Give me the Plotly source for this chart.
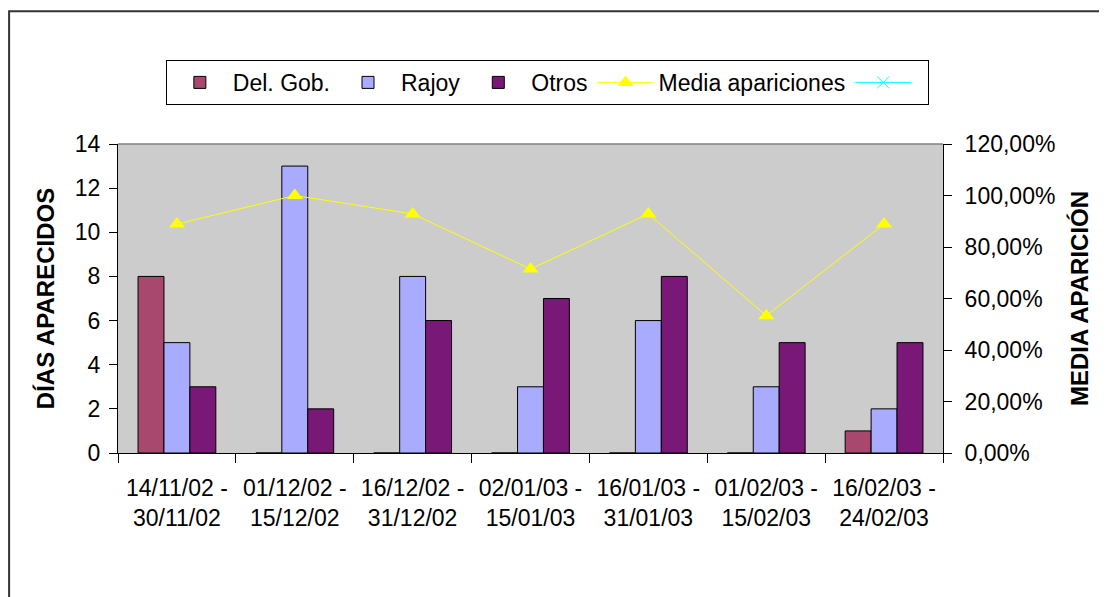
import plotly.graph_objects as go

# datos
periodos = ["14/11/02 -<br>30/11/02", "01/12/02 -<br>15/12/02", "16/12/02 -<br>31/12/02",
            "02/01/03 -<br>15/01/03", "16/01/03 -<br>31/01/03", "01/02/03 -<br>15/02/03",
            "16/02/03 -<br>24/02/03"]
del_gob = [8, 0, 0, 0, 0, 0, 1]
rajoy = [5, 13, 8, 3, 6, 3, 2]
otros = [3, 2, 6, 7, 8, 5, 5]
media_apariciones = [0.8889, 1.0, 0.9286, 0.7143, 0.9286, 0.5333, 0.8889]
serie_vacia = [None] * 7

FONT = "Arial, Liberation Sans, sans-serif"
bar_line = dict(color="#000000", width=1)

fig = go.Figure()
fig.add_trace(go.Bar(x=periodos, y=del_gob, name="Del. Gob.",
                     marker=dict(color="#A8486F", line=bar_line)))
fig.add_trace(go.Bar(x=periodos, y=rajoy, name="Rajoy",
                     marker=dict(color="#A9ABFE", line=bar_line)))
fig.add_trace(go.Bar(x=periodos, y=otros, name="Otros",
                     marker=dict(color="#7A1877", line=bar_line)))
fig.add_trace(go.Scatter(x=periodos, y=media_apariciones, name="Media apariciones",
                         yaxis="y2", mode="lines+markers",
                         line=dict(color="#FFFF00", width=1),
                         marker=dict(symbol="triangle-up", size=14, color="#FFFF00")))
fig.add_trace(go.Scatter(x=periodos, y=serie_vacia, name=" ", yaxis="y2",
                         mode="lines+markers",
                         line=dict(color="#00FFFF", width=1),
                         marker=dict(symbol="x-thin", size=12,
                                     line=dict(color="#00FFFF", width=1))))

# la página añade 8 px de margen: la figura se reduce para que el área de trazado
# quede en 118..943 x 144..453
fig.update_layout(
    width=1099, height=589,
    margin=dict(l=110, r=164, t=136, b=144),
    paper_bgcolor="white",
    plot_bgcolor="#CCCCCC",
    font=dict(family=FONT, size=23, color="black"),
    separators=",.",
    barmode="group", bargap=0.34, bargroupgap=0,
    showlegend=True,
    legend=dict(orientation="h", x=0.058, y=1.272, xanchor="left", yanchor="top",
                bordercolor="#000000", borderwidth=1, bgcolor="white",
                font=dict(family=FONT, size=23), itemwidth=56,
                tracegroupgap=0),
    xaxis=dict(showgrid=False, tickson="boundaries", ticks="outside", ticklen=9,
               tickcolor="#000", showline=True, linecolor="#000", linewidth=1,
               ticklabelstandoff=14, tickfont=dict(size=23)),
    yaxis=dict(title=dict(text="<b>DÍAS APARECIDOS</b>", font=dict(size=24), standoff=13),
               range=[0, 14], dtick=2, showgrid=False, zeroline=False,
               ticks="outside", ticklen=8, tickcolor="#000", ticklabelstandoff=4,
               showline=True, linecolor="#000", linewidth=1),
    yaxis2=dict(title=dict(text="<b>MEDIA APARICIÓN</b>", font=dict(size=24), standoff=16),
                overlaying="y", side="right", range=[0, 1.2], dtick=0.2,
                tickformat=".2%", showgrid=False, zeroline=False,
                ticks="outside", ticklen=8, tickcolor="#000", ticklabelstandoff=8,
                showline=True, linecolor="#000", linewidth=1),
    shapes=[
        # marco del gráfico
        dict(type="rect", xref="paper", yref="paper", x0=-0.132, y0=-2, x1=2, y1=1.430,
             line=dict(color="#333333", width=2), layer="below"),
        # borde superior del área de trazado
        dict(type="line", xref="paper", yref="paper", x0=0, x1=1, y0=1, y1=1,
             line=dict(color="#808080", width=1.5)),
    ],
)

fig.write_html("out.html")
